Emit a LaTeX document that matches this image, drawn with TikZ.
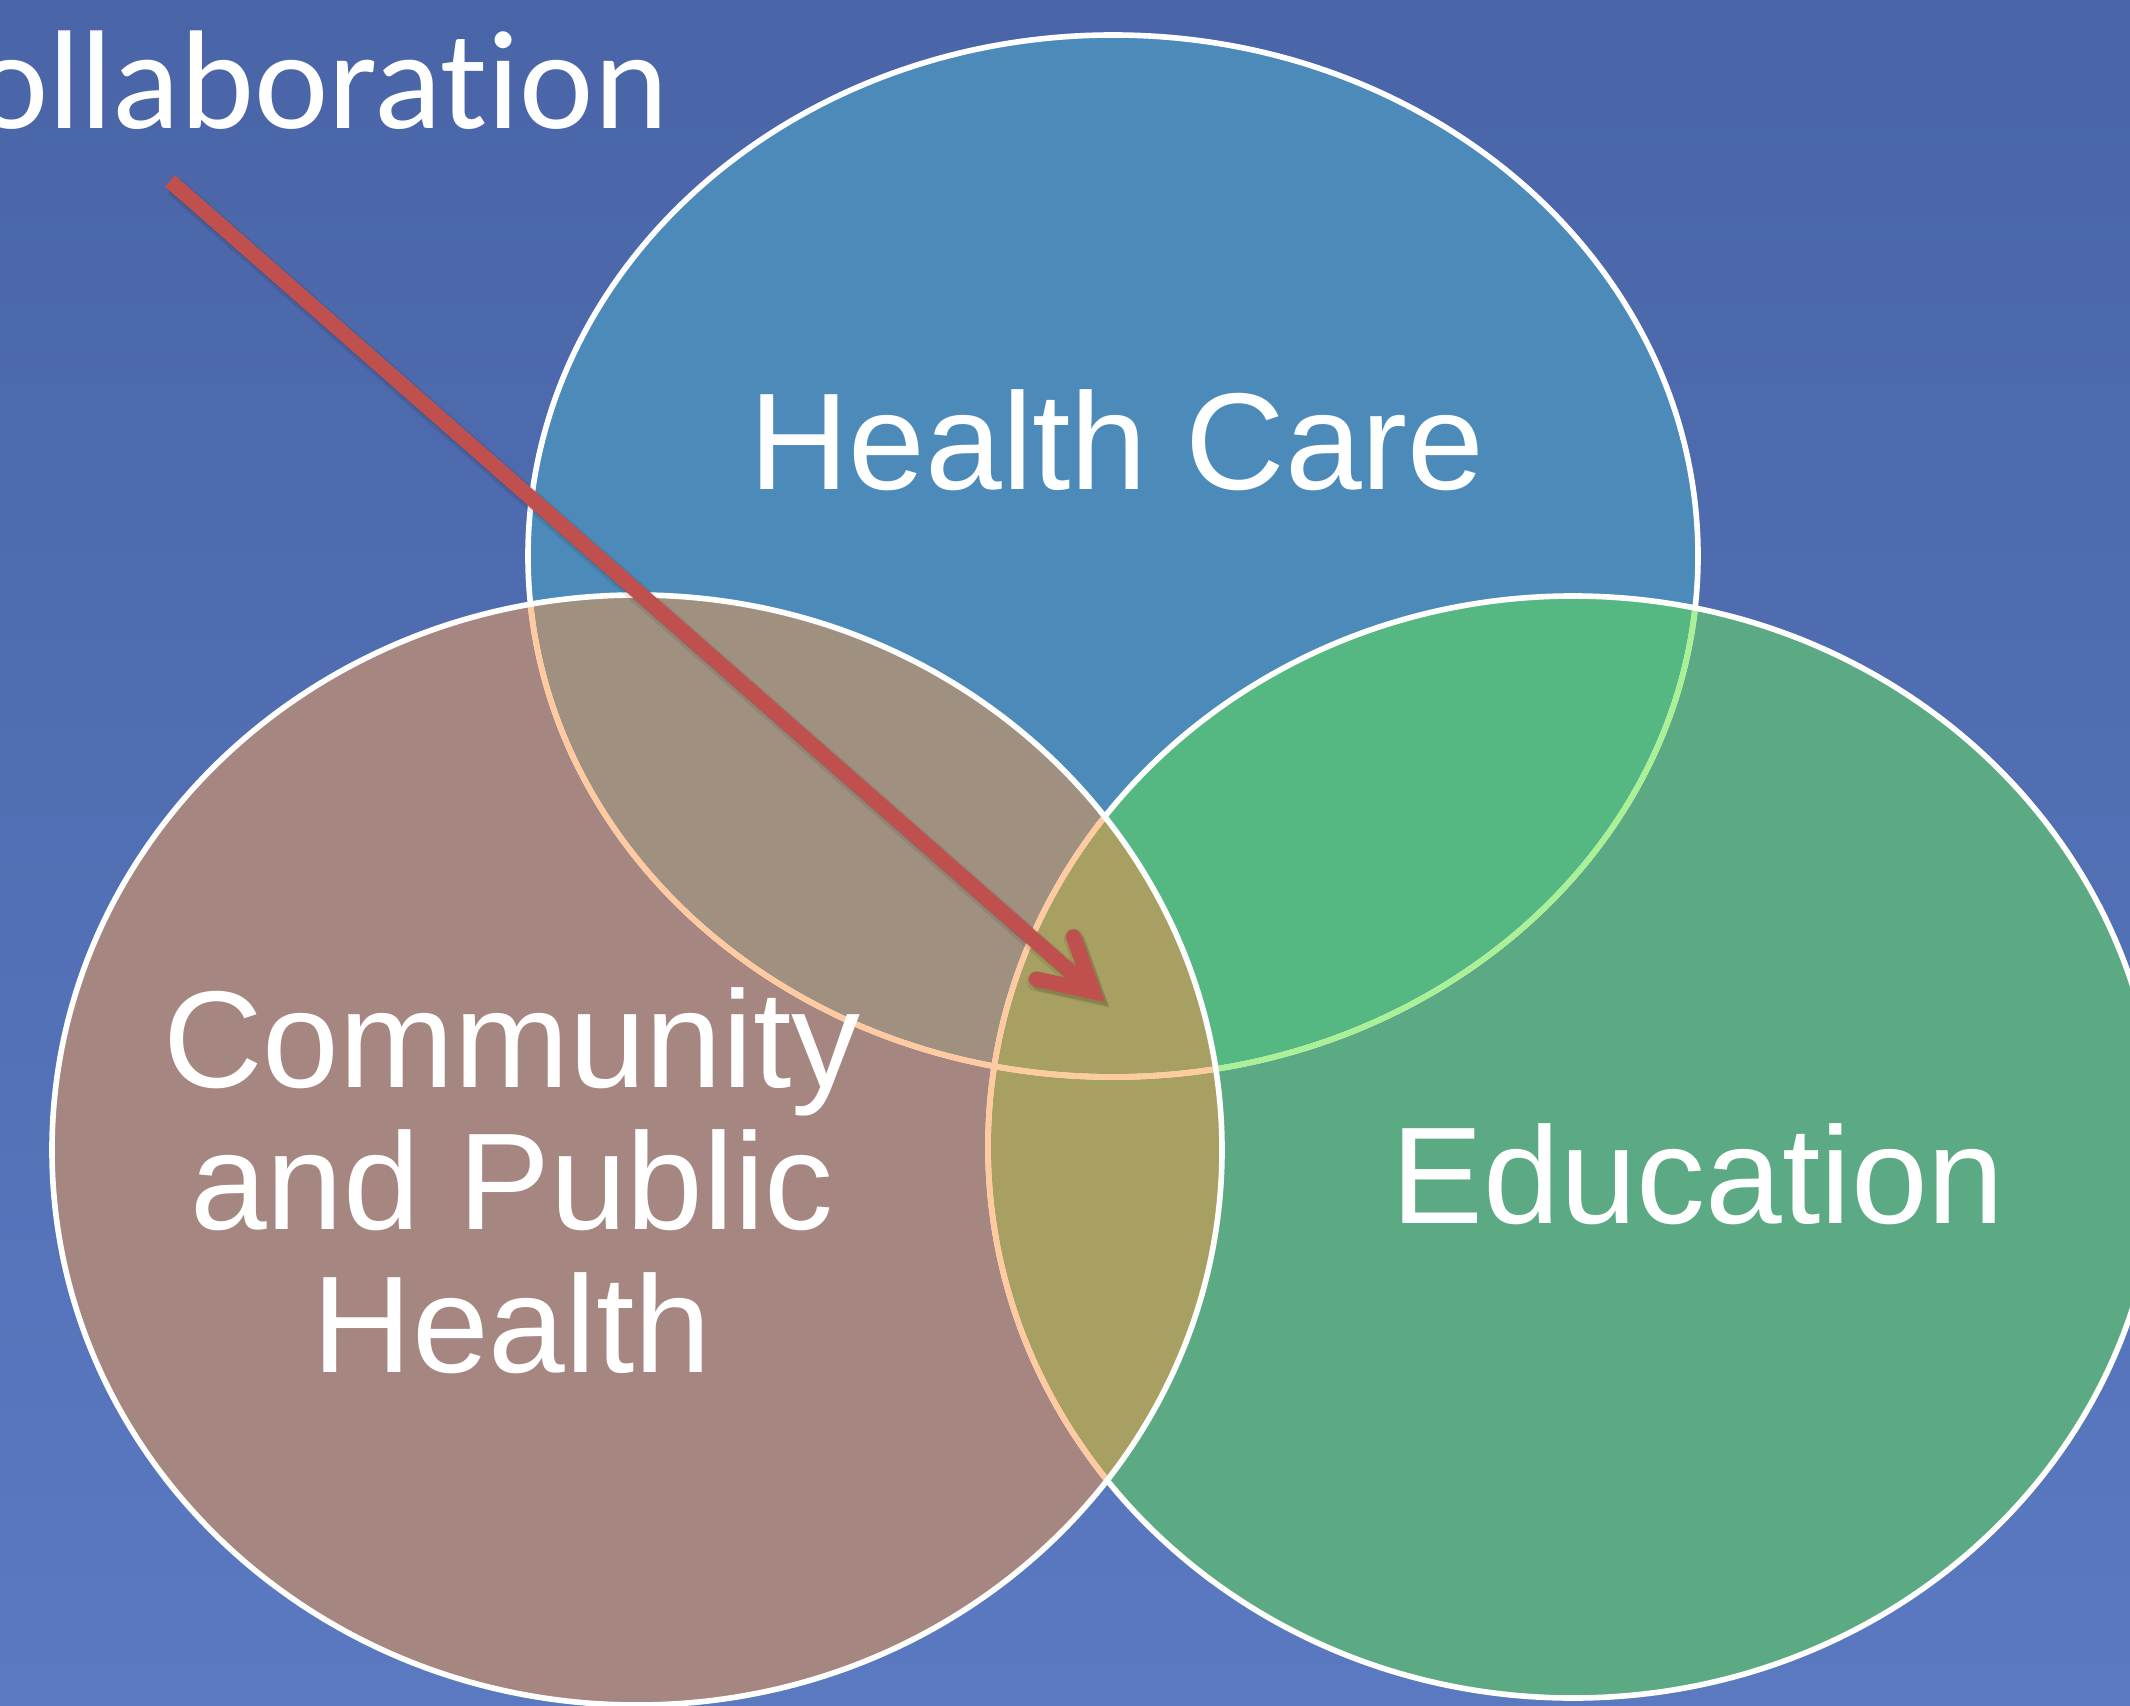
\documentclass[tikz,border=0pt]{standalone}
\usepackage{fontspec}
\setmainfont{Liberation Sans}
\newfontfamily\titlefont{Carlito}[Ligatures=CommonOff]
\usetikzlibrary{arrows.meta}
\definecolor{bgtop}{RGB}{73,101,167}
\definecolor{bgbottom}{RGB}{90,121,193}
\definecolor{careblue}{RGB}{75,138,185}
\definecolor{commred}{RGB}{165,134,128}
\definecolor{edugreen}{RGB}{91,170,131}
\definecolor{careedu}{RGB}{85,184,130}
\definecolor{carecomm}{RGB}{160,144,128}
\definecolor{commedu}{RGB}{168,160,98}
\definecolor{peach}{RGB}{255,202,160}
\definecolor{mint}{RGB}{170,240,150}
\definecolor{arrowred}{RGB}{192,80,77}
\tikzset{
  outline/.style={draw=white, line width=1.6pt},
  setname/.style={text=white, font=\fontsize{39.2}{40.4}\selectfont, align=center, inner sep=0pt},
  title/.style={text=white, font=\titlefont\fontsize{40}{44}\selectfont, inner sep=0pt},
  pointer/.style={line width=4.3pt, -{Straight Barb[length=14.5pt, width=16pt, line cap=round, line join=miter]}},
}

\begin{document}
\begin{tikzpicture}[x=0.01cm, y=-0.01cm]
% the three sets
\def\carearea{(1113,556) ellipse [x radius=585, y radius=521]}
\def\commarea{(637,1150) ellipse [x radius=585, y radius=555]}
\def\eduarea{(1573,1147) ellipse [x radius=585, y radius=551]}

  \useasboundingbox (0,0) rectangle (2130,1706);
  \clip (0,0) rectangle (2130,1706);
  \shade[top color=bgtop, bottom color=bgbottom] (0,0) rectangle (2130,1706);

  % fills, overlaps done by clipping
  \fill[careblue] \carearea;
  \fill[edugreen] \eduarea;
  \fill[commred] \commarea;
  \begin{scope}
    \clip \carearea;
    \fill[careedu] \eduarea;
    \fill[carecomm] \commarea;
  \end{scope}
  \begin{scope}
    \clip \eduarea;
    \fill[commedu] \commarea;
  \end{scope}

  % borders, tinted where another set lies on top
  \draw[outline] \carearea;
  \begin{scope}
    \clip \eduarea;
    \draw[outline, draw=mint] \carearea;
  \end{scope}
  \draw[outline] \eduarea;
  \begin{scope}
    \clip \commarea;
    \draw[outline, draw=peach] \carearea;
    \draw[outline, draw=peach] \eduarea;
  \end{scope}
  \draw[outline] \commarea;

  \node[setname, anchor=base] (care) at (1117,489) {Health Care};
  \node[setname, anchor=base] (comm) at (512,1372) {Community\\and Public\\Health};
  \node[setname, anchor=base] (edu) at (1698,1223) {Education};
  \node[title, anchor=base east] (collab) at (669,129) {Collaboration};

  \coordinate (arrowtail) at (170,181);
  \coordinate (arrowtip) at (1105,1002);
  \draw[pointer, black, opacity=0.08, line width=5.8pt, transform canvas={xshift=1.3pt, yshift=-1.6pt}] (arrowtail) -- (arrowtip);
  \draw[pointer, black, opacity=0.12, transform canvas={xshift=1pt, yshift=-1.2pt}] (arrowtail) -- (arrowtip);
  \draw[pointer, arrowred] (arrowtail) -- (arrowtip);
\end{tikzpicture}
\end{document}
